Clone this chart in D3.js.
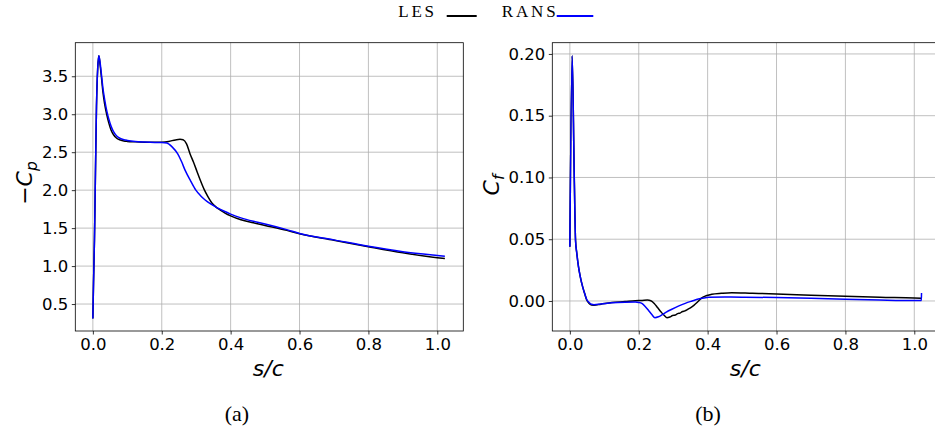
<!DOCTYPE html>
<html>
<head>
<meta charset="utf-8">
<script src="https://cdn.jsdelivr.net/npm/d3@7"></script>
<style>
  html, body { margin: 0; padding: 0; background: #fff; }
  svg { display: block; }
</style>
</head>
<body>
<svg id="fig" width="935" height="433"></svg>
<script>
// ---- Pressure coefficient (-Cp) along the surface ----
const cpLesS = [0, 0.002, 0.0046, 0.0075, 0.0105, 0.014, 0.0174, 0.021, 0.025, 0.029, 0.034, 0.0406, 0.046, 0.053, 0.06, 0.07, 0.08, 0.09, 0.1, 0.123, 0.15, 0.18, 0.2, 0.22, 0.24, 0.253, 0.262, 0.272, 0.282, 0.292, 0.302, 0.312, 0.323, 0.334, 0.345, 0.357, 0.369, 0.385, 0.4, 0.43, 0.466, 0.5, 0.563, 0.6, 0.7, 0.8, 0.9, 1.0, 1.022];
const cpLes  = [0.31, 0.8, 1.34, 2.22, 3.1, 3.6, 3.77, 3.65, 3.48, 3.30, 3.14, 2.99, 2.89, 2.79, 2.73, 2.68, 2.66, 2.648, 2.642, 2.636, 2.632, 2.63, 2.632, 2.642, 2.662, 2.67, 2.665, 2.61, 2.48, 2.37, 2.25, 2.13, 2.01, 1.915, 1.835, 1.78, 1.74, 1.695, 1.662, 1.61, 1.57, 1.535, 1.47, 1.425, 1.34, 1.255, 1.175, 1.11, 1.10];

const cpRansS = [0, 0.002, 0.0046, 0.0075, 0.0105, 0.014, 0.0174, 0.021, 0.025, 0.029, 0.034, 0.041, 0.046, 0.053, 0.06, 0.07, 0.08, 0.09, 0.1, 0.123, 0.15, 0.18, 0.2, 0.215, 0.23, 0.246, 0.257, 0.268, 0.284, 0.299, 0.312, 0.326, 0.343, 0.36, 0.38, 0.4, 0.43, 0.466, 0.5, 0.563, 0.6, 0.7, 0.8, 0.9, 1.0, 1.022];
const cpRans  = [0.31, 0.8, 1.34, 2.22, 3.1, 3.6, 3.77, 3.68, 3.52, 3.35, 3.2, 3.03, 2.94, 2.84, 2.77, 2.71, 2.68, 2.665, 2.655, 2.64, 2.633, 2.628, 2.627, 2.62, 2.57, 2.48, 2.38, 2.26, 2.12, 2.0, 1.93, 1.87, 1.815, 1.77, 1.725, 1.685, 1.635, 1.59, 1.555, 1.48, 1.43, 1.345, 1.26, 1.19, 1.14, 1.13];

// ---- Skin friction coefficient (Cf) along the surface ----
const cfLesS = [0, 0.0067, 0.0126, 0.0165, 0.02, 0.025, 0.03, 0.037, 0.043, 0.049, 0.056, 0.063, 0.07, 0.09, 0.122, 0.16, 0.19, 0.21, 0.225, 0.235, 0.245, 0.255, 0.265, 0.275, 0.282, 0.29, 0.298, 0.306, 0.313, 0.32, 0.327, 0.334, 0.342, 0.35, 0.36, 0.37, 0.383, 0.395, 0.412, 0.44, 0.47, 0.53, 0.6, 0.7, 0.8, 0.9, 1.0, 1.021];
const cfLes  = [0.044, 0.1986, 0.1034, 0.049, 0.039, 0.0278, 0.020, 0.0116, 0.006, 0.0008, -0.002, -0.0033, -0.0034, -0.0026, -0.0013, -0.0005, 0.0002, 0.0004, 0.0007, 0.0002, -0.002, -0.0055, -0.009, -0.012, -0.0135, -0.013, -0.0118, -0.0113, -0.0102, -0.0098, -0.0085, -0.0080, -0.0068, -0.0055, -0.0035, -0.001, 0.0025, 0.0042, 0.0054, 0.0062, 0.0067, 0.0062, 0.0057, 0.0047, 0.0038, 0.003, 0.0024, 0.0022];

const cfRansS = [0, 0.0067, 0.0126, 0.0165, 0.02, 0.025, 0.03, 0.037, 0.043, 0.049, 0.056, 0.063, 0.07, 0.09, 0.122, 0.16, 0.19, 0.2, 0.209, 0.218, 0.228, 0.238, 0.247, 0.257, 0.267, 0.28, 0.296, 0.315, 0.335, 0.355, 0.373, 0.39, 0.403, 0.45, 0.5, 0.6, 0.7, 0.8, 0.9, 1.0, 1.0205, 1.021];
const cfRans  = [0.044, 0.1986, 0.1034, 0.049, 0.039, 0.0278, 0.020, 0.0116, 0.006, 0.0012, -0.0012, -0.0027, -0.003, -0.0025, -0.0015, -0.001, -0.0009, -0.0012, -0.002, -0.0042, -0.0075, -0.011, -0.0135, -0.0128, -0.0113, -0.009, -0.0067, -0.0042, -0.0019, 0.0, 0.0016, 0.0025, 0.003, 0.0032, 0.0031, 0.0028, 0.0022, 0.0014, 0.0008, 0.0004, 0.0004, 0.0065];

// ---- Axis ticks and labels ----
const sTicks = [0, 0.2, 0.4, 0.6, 0.8, 1.0];
const cpTicks = [0.5, 1.0, 1.5, 2.0, 2.5, 3.0, 3.5];
const cfTicks = [0.0, 0.05, 0.10, 0.15, 0.20];
const seriesNames = ["LES", "RANS"];
const seriesColors = ["#000000", "#0000ff"];
const panelCaptions = ["(a)", "(b)"];

// ---- Layout ----
const svg = d3.select("#fig");
svg.append("rect").attr("width", 935).attr("height", 433).attr("fill", "#fff");

const plotTop = 42.7, plotBottom = 331;
const sDomain = [-0.051, 1.0755];
const tickFont = "'DejaVu Sans', sans-serif";
const serifFont = "'Liberation Serif', 'Times New Roman', serif";

const panels = [
  {
    left: 75.3, right: 463.3, yDomain: [0.145, 3.942], ticks: cpTicks, fmt: d3.format(".1f"),
    label: ["\u2212C", "p"], labelX: 32, labelY: 183,
    series: [[cpLesS, cpLes], [cpRansS, cpRans]], caption: panelCaptions[0], capX: 237
  },
  {
    left: 552.3, right: 940.3, yDomain: [-0.0243, 0.2091], ticks: cfTicks, fmt: d3.format(".2f"),
    label: ["C", "f"], labelX: 499, labelY: 185,
    series: [[cfLesS, cfLes], [cfRansS, cfRans]], caption: panelCaptions[1], capX: 708
  }
];

panels.forEach((p, i) => {
  const x = d3.scaleLinear().domain(sDomain).range([p.left, p.right]);
  const y = d3.scaleLinear().domain(p.yDomain).range([plotBottom, plotTop]);
  const g = svg.append("g");

  const clipId = "clip" + i;
  svg.append("clipPath").attr("id", clipId)
    .append("rect").attr("x", p.left).attr("y", plotTop)
    .attr("width", p.right - p.left).attr("height", plotBottom - plotTop);

  // grid
  g.append("g").selectAll("line").data(sTicks).join("line")
    .attr("x1", d => x(d)).attr("x2", d => x(d))
    .attr("y1", plotTop).attr("y2", plotBottom)
    .attr("stroke", "#b0b0b0").attr("stroke-width", 0.8);
  g.append("g").selectAll("line").data(p.ticks).join("line")
    .attr("x1", p.left).attr("x2", p.right)
    .attr("y1", d => y(d)).attr("y2", d => y(d))
    .attr("stroke", "#b0b0b0").attr("stroke-width", 0.8);

  // curves
  p.series.forEach(([sv, vv], k) => {
    const pts = sv.map((s, j) => [s, vv[j]]);
    const line = d3.line().x(d => x(d[0])).y(d => y(d[1])).curve(d3.curveMonotoneX);
    g.append("path").datum(pts)
      .attr("d", line)
      .attr("fill", "none")
      .attr("stroke", seriesColors[k])
      .attr("stroke-width", 1.5)
      .attr("stroke-linejoin", "round")
      .attr("clip-path", `url(#${clipId})`);
  });

  // axes
  const xAxis = d3.axisBottom(x).tickValues(sTicks).tickFormat(d3.format(".1f"))
    .tickSizeInner(3.5).tickSizeOuter(0).tickPadding(3.5);
  const yAxis = d3.axisLeft(y).tickValues(p.ticks).tickFormat(p.fmt)
    .tickSizeInner(3.5).tickSizeOuter(0).tickPadding(3.5);

  const gx = g.append("g").attr("transform", `translate(0,${plotBottom})`).call(xAxis);
  const gy = g.append("g").attr("transform", `translate(${p.left},0)`).call(yAxis);
  [gx, gy].forEach(ax => {
    ax.select(".domain").remove();
    ax.selectAll("line").attr("stroke", "#000").attr("stroke-width", 0.8);
    ax.selectAll("text").attr("fill", "#000")
      .style("font-family", tickFont).style("font-size", "16.5px");
  });

  // frame
  g.append("rect").attr("x", p.left).attr("y", plotTop)
    .attr("width", p.right - p.left).attr("height", plotBottom - plotTop)
    .attr("fill", "none").attr("stroke", "#000").attr("stroke-width", 0.8);

  // x label
  g.append("text").attr("x", (p.left + p.right) / 2 - 1).attr("y", 376)
    .attr("text-anchor", "middle")
    .style("font-family", tickFont).style("font-size", "22px").style("font-style", "italic")
    .text("s/c");

  // y label
  const yl = g.append("text")
    .attr("transform", `translate(${p.labelX},${p.labelY}) rotate(-90)`)
    .attr("text-anchor", "middle")
    .style("font-family", tickFont).style("font-size", "22px");
  yl.append("tspan").style("font-style", "italic").text(p.label[0]);
  yl.append("tspan").attr("dy", 5).style("font-size", "15.5px").style("font-style", "italic").text(p.label[1]);

  // caption
  g.append("text").attr("x", p.capX).attr("y", 421).attr("text-anchor", "middle")
    .style("font-family", serifFont).style("font-size", "22px")
    .text(p.caption);
});

// legend
const legend = svg.append("g");
const legendItems = [
  { textX: 398.3, textW: 35.7, lineX: [446.7, 476.7] },
  { textX: 501.7, textW: 54, lineX: [556.7, 593.3] }
];
legendItems.forEach((it, k) => {
  legend.append("text").attr("x", it.textX).attr("y", 16.7)
    .attr("textLength", it.textW).attr("lengthAdjust", "spacing")
    .style("font-family", serifFont).style("font-size", "17px")
    .text(seriesNames[k]);
  legend.append("line").attr("x1", it.lineX[0]).attr("x2", it.lineX[1])
    .attr("y1", 16).attr("y2", 16)
    .attr("stroke", seriesColors[k]).attr("stroke-width", 2);
});
</script>
</body>
</html>
